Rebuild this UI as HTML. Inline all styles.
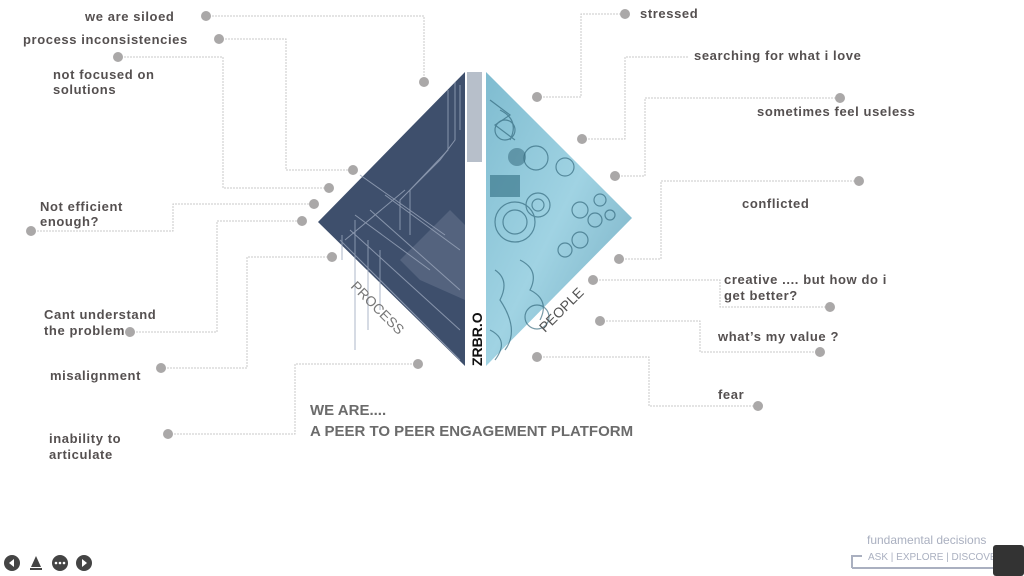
<!DOCTYPE html>
<html><head><meta charset="utf-8"><style>
html,body{margin:0;padding:0;background:#fff;width:1024px;height:576px;overflow:hidden}
svg{display:block}
.t{font-family:"Liberation Sans",sans-serif;font-size:13px;fill:#555050;letter-spacing:0.6px;font-weight:bold}
.l{fill:none;stroke:#c8c8c8;stroke-width:1;stroke-dasharray:2 1}
.d{fill:#aaa8a8}
</style></head><body>
<svg width="1024" height="576" viewBox="0 0 1024 576">
<defs>
<linearGradient id="pg" x1="0" y1="0" x2="1" y2="1">
<stop offset="0" stop-color="#7fbcd0"/><stop offset="0.5" stop-color="#a0d3e3"/><stop offset="1" stop-color="#72aabf"/>
</linearGradient>
</defs>
<polyline class="l" points="206,16 424,16 424,82"/>
<polyline class="l" points="219,39 286,39 286,170 353,170"/>
<polyline class="l" points="118,57 223,57 223,188 329,188"/>
<polyline class="l" points="31,231 173,231 173,204 314,204"/>
<polyline class="l" points="130,332 217,332 217,221 302,221"/>
<polyline class="l" points="161,368 247,368 247,257 332,257"/>
<polyline class="l" points="168,434 295,434 295,364 418,364"/>
<polyline class="l" points="537,97 581,97 581,14 625,14"/>
<polyline class="l" points="582,139 625,139 625,57 688,57"/>
<polyline class="l" points="615,176 645,176 645,98 840,98"/>
<polyline class="l" points="619,259 661,259 661,181 859,181"/>
<polyline class="l" points="593,280 720,280 720,307 830,307"/>
<polyline class="l" points="600,321 700,321 700,352 820,352"/>
<polyline class="l" points="537,357 649,357 649,406 758,406"/>
<polygon points="465,72 318,222 465,366" fill="#3e4f6c"/>
<polygon points="400,260 450,210 465,225 465,300 420,280" fill="#6a7890" opacity="0.5"/>
<g stroke="#9aa6bb" stroke-width="1" fill="none" opacity="0.8">
<polyline points="455,82 455,140 440,160 400,200 400,230"/>
<polyline points="448,90 448,150 410,190 410,235"/>
<polyline points="460,85 460,130"/>
<line x1="340" y1="240" x2="460" y2="360"/>
<line x1="350" y1="230" x2="460" y2="330"/>
<line x1="370" y1="210" x2="460" y2="290"/>
<line x1="385" y1="195" x2="460" y2="250"/>
<line x1="355" y1="215" x2="430" y2="270"/>
<polyline points="355,220 355,350"/><polyline points="368,240 368,330"/>
<polyline points="380,250 380,310"/><polyline points="342,235 342,260"/>
<line x1="360" y1="175" x2="445" y2="235"/>
<line x1="345" y1="240" x2="405" y2="190"/>
</g>
<polygon points="486,72 632,218 486,366" fill="url(#pg)"/>
<g stroke="#2f6478" stroke-width="1.2" fill="none" opacity="0.65">
<circle cx="515" cy="222" r="20"/><circle cx="515" cy="222" r="12"/><circle cx="538" cy="205" r="12"/><circle cx="538" cy="205" r="6"/>
<circle cx="565" cy="167" r="9"/><circle cx="536" cy="158" r="12"/><circle cx="537" cy="317" r="12"/>
<circle cx="580" cy="210" r="8"/><circle cx="595" cy="220" r="7"/><circle cx="580" cy="240" r="8"/>
<circle cx="565" cy="250" r="7"/><circle cx="600" cy="200" r="6"/><circle cx="610" cy="215" r="5"/>
<circle cx="505" cy="130" r="10"/><path d="M495 270 Q510 280 500 300 Q520 330 505 350"/>
<path d="M500 110 Q520 120 510 140"/><path d="M490 100 L510 115 L495 125 L515 140"/>
<path d="M520 260 Q540 270 530 290 Q550 300 540 320"/>
<path d="M490 330 Q510 340 495 360"/>
</g>
<circle cx="517" cy="157" r="9" fill="#2f6478" opacity="0.5"/>
<rect x="490" y="175" width="30" height="22" fill="#3f7a8e" opacity="0.7"/>
<rect x="466" y="72" width="17" height="294" fill="#fff"/>
<rect x="467" y="72" width="15" height="90" fill="#b7bfca"/>
<text transform="translate(482,366) rotate(-90)" font-family="Liberation Sans,sans-serif" font-size="14" font-weight="bold" fill="#111">ZRBR.O</text>
<text transform="translate(350,287) rotate(45)" font-family="Liberation Sans,sans-serif" font-size="14" fill="#777">PROCESS</text>
<text transform="translate(545,333) rotate(-45)" font-family="Liberation Sans,sans-serif" font-size="14" fill="#555">PEOPLE</text>
<g class="d">
<circle cx="206" cy="16" r="5"/><circle cx="424" cy="82" r="5"/>
<circle cx="219" cy="39" r="5"/><circle cx="353" cy="170" r="5"/>
<circle cx="118" cy="57" r="5"/><circle cx="329" cy="188" r="5"/>
<circle cx="31" cy="231" r="5"/><circle cx="314" cy="204" r="5"/>
<circle cx="130" cy="332" r="5"/><circle cx="302" cy="221" r="5"/>
<circle cx="161" cy="368" r="5"/><circle cx="332" cy="257" r="5"/>
<circle cx="168" cy="434" r="5"/><circle cx="418" cy="364" r="5"/>
<circle cx="537" cy="97" r="5"/><circle cx="625" cy="14" r="5"/>
<circle cx="582" cy="139" r="5"/>
<circle cx="615" cy="176" r="5"/><circle cx="840" cy="98" r="5"/>
<circle cx="619" cy="259" r="5"/><circle cx="859" cy="181" r="5"/>
<circle cx="593" cy="280" r="5"/><circle cx="830" cy="307" r="5"/>
<circle cx="600" cy="321" r="5"/><circle cx="820" cy="352" r="5"/>
<circle cx="537" cy="357" r="5"/><circle cx="758" cy="406" r="5"/>
</g>
<g class="t">
<text x="85" y="21">we are siloed</text>
<text x="23" y="44">process inconsistencies</text>
<text x="53" y="79">not focused on</text><text x="53" y="94">solutions</text>
<text x="40" y="211">Not efficient</text><text x="40" y="226">enough?</text>
<text x="44" y="319">Cant understand</text><text x="44" y="335">the problem</text>
<text x="50" y="380">misalignment</text>
<text x="49" y="443">inability to</text><text x="49" y="459">articulate</text>
<text x="640" y="18">stressed</text>
<text x="694" y="60">searching for what i love</text>
<text x="757" y="116">sometimes feel useless</text>
<text x="742" y="208">conflicted</text>
<text x="724" y="284">creative .... but how do i</text><text x="724" y="300">get better?</text>
<text x="718" y="341">what’s my value ?</text>
<text x="718" y="399">fear</text>
</g>
<text x="310" y="415" font-family="Liberation Sans,sans-serif" font-size="15" font-weight="bold" fill="#6b6b6b">WE ARE....</text>
<text x="310" y="436" font-family="Liberation Sans,sans-serif" font-size="15" font-weight="bold" fill="#6b6b6b">A PEER TO PEER ENGAGEMENT PLATFORM</text>
<text x="867" y="544" font-family="Liberation Sans,sans-serif" font-size="12" fill="#aab0c0">fundamental decisions</text>
<text x="868" y="560" font-family="Liberation Sans,sans-serif" font-size="10" fill="#aab0c0">ASK | EXPLORE | DISCOVER</text>
<polyline points="852,568 852,556 862,556" fill="none" stroke="#aab0c0" stroke-width="2"/>
<line x1="852" y1="568" x2="993" y2="568" stroke="#aab0c0" stroke-width="2"/>
<rect x="993" y="545" width="31" height="31" rx="3" fill="#333"/>
<g fill="#444">
<circle cx="12" cy="563" r="8"/><circle cx="60" cy="563" r="8"/><circle cx="84" cy="563" r="8"/>
<polygon points="36,556 31,567 41,567"/><rect x="30" y="568" width="12" height="2"/>
</g>
<g fill="#fff"><polygon points="9,563 14,559 14,567"/><polygon points="87,563 82,559 82,567"/>
<circle cx="56" cy="563" r="1.3"/><circle cx="60" cy="563" r="1.3"/><circle cx="64" cy="563" r="1.3"/></g>
</svg>
</body></html>
